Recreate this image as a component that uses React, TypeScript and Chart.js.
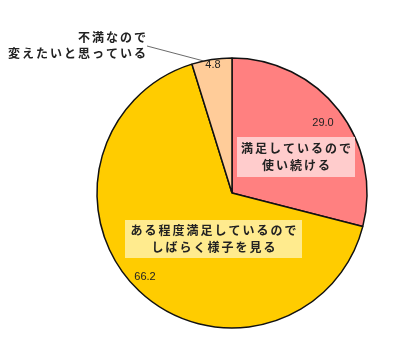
import React, { useEffect, useRef } from "react";
import { Chart, registerables } from "chart.js";

Chart.register(...registerables);

const categories = [
  "満足しているので\n使い続ける",
  "ある程度満足しているので\nしばらく様子を見る",
  "不満なので\n変えたいと思っている",
];
const values = [29.0, 66.2, 4.8];
const valueLabels = ["29.0", "66.2", "4.8"];
const colors = ["#FF8080", "#FFCC00", "#FFCC99"];

const labelPlugin = {
  id: "pieLabels",
  afterDatasetsDraw(chart: any) {
    const ctx = chart.ctx as CanvasRenderingContext2D;
    const arcs = chart.getDatasetMeta(0).data;
    const cx = arcs[0].x;
    const cy = arcs[0].y;
    const r = arcs[0].outerRadius;
    ctx.save();
    // value labels
    ctx.font = "11px 'Liberation Sans', Arial, sans-serif";
    ctx.fillStyle = "#222";
    ctx.textAlign = "center";
    ctx.textBaseline = "middle";
    ctx.fillText(valueLabels[0], cx + 91, cy - 70);
    ctx.fillText(valueLabels[1], cx - 87, cy + 84);
    ctx.fillText(valueLabels[2], cx - 19, cy - 128);

    // category label boxes
    ctx.font = "bold 12px 'Noto Sans CJK JP', sans-serif";
    (ctx as any).letterSpacing = "2px";
    const drawBox = (text: string, mx: number, my: number, bw: number, bh: number, bg: string) => {
      ctx.fillStyle = bg;
      ctx.fillRect(mx - bw / 2, my - bh / 2, bw, bh);
      ctx.fillStyle = "#222";
      ctx.textAlign = "center";
      const lines = text.split("\n");
      const lh = 16.5;
      const startY = my - ((lines.length - 1) * lh) / 2;
      lines.forEach((l, k) => ctx.fillText(l, mx + 1, startY + k * lh));
    };
    drawBox(categories[0], cx + 64, cy - 36, 118, 40, "rgba(255,210,210,0.92)");
    drawBox(categories[1], cx - 18.5, cy + 46, 177, 38, "rgba(255,236,150,0.95)");

    // outside label with leader line
    const a2 = arcs[2];
    const m2 = a2.startAngle + (a2.endAngle - a2.startAngle) * 0.3;
    const ex = cx + Math.cos(m2) * r;
    const ey = cy + Math.sin(m2) * r;
    ctx.strokeStyle = "#444";
    ctx.lineWidth = 0.8;
    ctx.beginPath();
    ctx.moveTo(ex, ey);
    ctx.lineTo(cx - 85, cy - 147);
    ctx.stroke();
    ctx.fillStyle = "#222";
    ctx.textAlign = "right";
    const ol = categories[2].split("\n");
    ctx.fillText(ol[0], cx - 84, cy - 156);
    ctx.fillText(ol[1], cx - 84, cy - 140);
    ctx.restore();
  },
};

export default function App() {
  const ref = useRef<HTMLCanvasElement | null>(null);
  useEffect(() => {
    const chart = new Chart(ref.current as HTMLCanvasElement, {
      type: "pie",
      data: {
        labels: categories,
        datasets: [
          {
            data: values,
            backgroundColor: colors,
            borderColor: "#111",
            borderWidth: 1.5,
            radius: 135,
          } as any,
        ],
      },
      options: {
        animation: false,
        responsive: false,
        events: [],
        layout: { padding: { left: 96, right: 32, top: 57, bottom: 28 } },
        plugins: { legend: { display: false }, tooltip: { enabled: false } },
      },
      plugins: [labelPlugin],
    });
    return () => chart.destroy();
  }, []);
  return (
    <div style={{ position: "fixed", left: 0, top: 0, width: 400, height: 357, background: "#fff" }}>
      <canvas ref={ref} width={400} height={357} style={{ width: 400, height: 357 }} />
    </div>
  );
}
